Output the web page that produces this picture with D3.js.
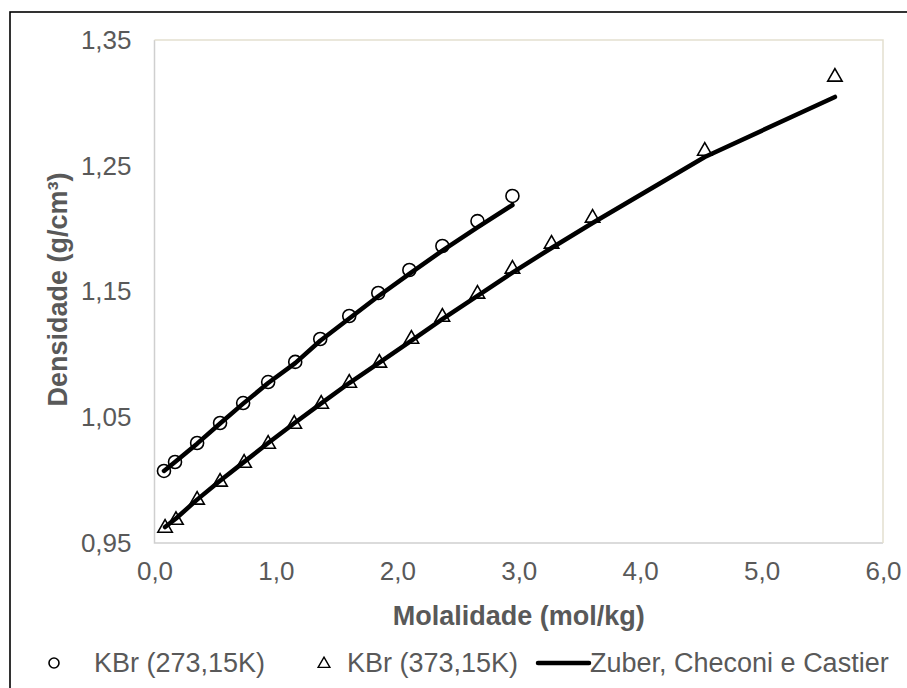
<!DOCTYPE html>
<html>
<head>
<meta charset="utf-8">
<script src="https://cdn.jsdelivr.net/npm/d3@7"></script>
<style>
  html, body { margin: 0; padding: 0; background: #fff; }
  svg { display: block; font-family: "Liberation Sans", Arial, sans-serif; }
</style>
</head>
<body>
<svg id="chart" width="907" height="688"></svg>
<script>
// KBr 273,15 K - experimental
const molal273 = [0.078, 0.169, 0.351, 0.540, 0.730, 0.936, 1.159, 1.365, 1.604, 1.843, 2.099, 2.371, 2.660, 2.948];
const dens273 = [1.0073, 1.0144, 1.0295, 1.0454, 1.0613, 1.0780, 1.0940, 1.1122, 1.1305, 1.1488, 1.1671, 1.1862, 1.2060, 1.2260];
const model273 = [1.0073, 1.0144, 1.0290, 1.0450, 1.0608, 1.0772, 1.0930, 1.1108, 1.1285, 1.1462, 1.1640, 1.1825, 1.2010, 1.2188];

// KBr 373,15 K - experimental
const molal373 = [0.087, 0.177, 0.351, 0.540, 0.738, 0.936, 1.151, 1.373, 1.604, 1.852, 2.116, 2.371, 2.660, 2.948, 3.270, 3.608, 4.532, 5.604];
const dens373 = [0.9627, 0.9690, 0.9850, 0.9993, 1.0144, 1.0295, 1.0454, 1.0613, 1.0780, 1.0940, 1.1130, 1.1305, 1.1488, 1.1687, 1.1886, 1.2093, 1.2625, 1.3214];
const model373 = [0.9627, 0.9695, 0.9845, 0.9995, 1.0145, 1.0295, 1.0452, 1.0610, 1.0772, 1.0935, 1.1110, 1.1280, 1.1465, 1.1650, 1.1846, 1.2045, 1.2570, 1.3047];

const xTicks = [0, 1, 2, 3, 4, 5, 6];
const yTicks = [0.95, 1.05, 1.15, 1.25, 1.35];
const legendLabels = ['KBr (273,15K)', 'KBr (373,15K)', 'Zuber, Checoni e Castier'];

const svg = d3.select('#chart');
const margin = { top: 40, right: 24, bottom: 145, left: 154.5 };
const width = 907 - margin.left - margin.right;
const height = 688 - margin.top - margin.bottom;
const textColor = '#595959';
const comma = s => s.replace('.', ',');

// outer chart frame (runs off the right / bottom edge)
svg.append('rect')
  .attr('x', 10).attr('y', 12)
  .attr('width', 1000).attr('height', 1000)
  .attr('fill', 'none').attr('stroke', '#000').attr('stroke-width', 1.6);

const g = svg.append('g')
  .attr('transform', `translate(${margin.left},${margin.top})`);

const x = d3.scaleLinear().domain([0, 6]).range([0, width]);
const y = d3.scaleLinear().domain([0.95, 1.35]).range([height, 0]);

// plot area border
g.append('path')
  .attr('d', `M0,0V${height}H${width}`)
  .attr('fill', 'none').attr('stroke', '#cfcfcf').attr('stroke-width', 1.5);
g.append('path')
  .attr('d', `M0,0H${width}V${height}`)
  .attr('fill', 'none').attr('stroke', '#e4e0cf').attr('stroke-width', 1.5);

const xAxis = g.append('g')
  .attr('transform', `translate(0,${height})`)
  .call(d3.axisBottom(x).tickValues(xTicks).tickSize(0).tickPadding(19)
    .tickFormat(d => comma(d3.format('.1f')(d))));
const yAxis = g.append('g')
  .call(d3.axisLeft(y).tickValues(yTicks).tickSize(0).tickPadding(23)
    .tickFormat(d => comma(d3.format('.2f')(d))));

[xAxis, yAxis].forEach(a => {
  a.select('.domain').remove();
  a.selectAll('text')
    .attr('fill', textColor)
    .style('font-size', '26px')
    .style('font-family', '"Liberation Sans", Arial, sans-serif');
});

// axis titles
g.append('text')
  .attr('x', width / 2).attr('y', height + 82)
  .attr('text-anchor', 'middle')
  .attr('fill', textColor)
  .style('font-size', '27px').style('font-weight', 'bold')
  .text('Molalidade (mol/kg)');

g.append('text')
  .attr('transform', `translate(${67 - margin.left},${height / 2 - 2}) rotate(-90)`)
  .attr('text-anchor', 'middle')
  .attr('fill', textColor)
  .style('font-size', '27px').style('font-weight', 'bold')
  .text('Densidade (g/cm³)');

// model lines
const line = d3.line()
  .x(d => x(d[0]))
  .y(d => y(d[1]));

[d3.zip(molal273, model273), d3.zip(molal373, model373)].forEach(pts => {
  g.append('path')
    .datum(pts)
    .attr('d', line)
    .attr('fill', 'none')
    .attr('stroke', '#000')
    .attr('stroke-width', 4.5)
    .attr('stroke-linecap', 'round')
    .attr('stroke-linejoin', 'round');
});

// markers
const circ = d3.symbol().type(d3.symbolCircle).size(Math.PI * 6.5 * 6.5);
const tri = d3.symbol().type(d3.symbolTriangle).size(90);

g.selectAll('.p273')
  .data(d3.zip(molal273, dens273))
  .enter().append('path')
  .attr('class', 'p273')
  .attr('d', circ)
  .attr('transform', d => `translate(${x(d[0])},${y(d[1])})`)
  .attr('fill', 'none').attr('stroke', '#000').attr('stroke-width', 1.6);

g.selectAll('.p373')
  .data(d3.zip(molal373, dens373))
  .enter().append('path')
  .attr('class', 'p373')
  .attr('d', tri)
  .attr('transform', d => `translate(${x(d[0])},${y(d[1]) + 1})`)
  .attr('fill', 'none').attr('stroke', '#000').attr('stroke-width', 1.6);

// legend
const lg = svg.append('g').attr('transform', 'translate(0,663)');
lg.append('circle').attr('cx', 54).attr('cy', 0).attr('r', 5)
  .attr('fill', 'none').attr('stroke', '#000').attr('stroke-width', 1.6);
lg.append('path').attr('d', d3.symbol().type(d3.symbolTriangle).size(60))
  .attr('transform', 'translate(324,1)')
  .attr('fill', 'none').attr('stroke', '#000').attr('stroke-width', 1.4);
lg.append('line').attr('x1', 538).attr('x2', 589).attr('y1', 0).attr('y2', 0)
  .attr('stroke', '#000').attr('stroke-width', 4.5).attr('stroke-linecap', 'round');

lg.selectAll('.lt')
  .data(legendLabels)
  .enter().append('text')
  .attr('class', 'lt')
  .attr('x', (d, i) => [94, 347, 590][i])
  .attr('y', 0)
  .attr('dy', '0.35em')
  .attr('fill', textColor)
  .style('font-size', '27px')
  .text(d => d);
</script>
</body>
</html>
